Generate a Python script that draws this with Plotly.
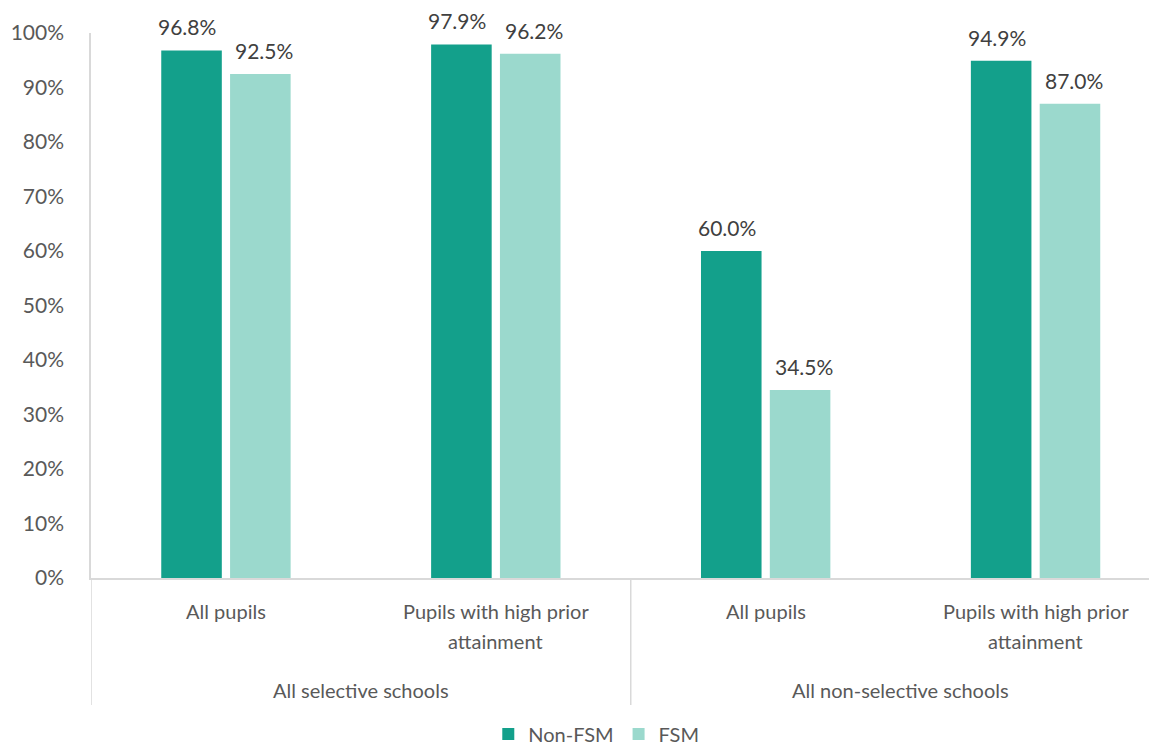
import plotly.graph_objects as go

school_types = ["All selective schools", "All selective schools",
                "All non-selective schools", "All non-selective schools"]
pupil_groups = ["All pupils", "Pupils with high prior<br>attainment",
                "All pupils", "Pupils with high prior<br>attainment"]
non_fsm = [96.8, 97.9, 60.0, 94.9]
fsm = [92.5, 96.2, 34.5, 87.0]
y_ticks = [0, 10, 20, 30, 40, 50, 60, 70, 80, 90, 100]
y_tick_labels = [f"{v}%" for v in y_ticks]

FONT = "Lato, Carlito, Calibri, sans-serif"
TXT = "#595959"
LBL = "#404040"
GRID = "#d9d9d9"
FS = 20
FS_NUM = 21

# unique category keys (school type + pupil group)
cats = [f"{s} | {p}" for s, p in zip(school_types, pupil_groups)]

# the page body has an 8px margin; figure is sized/offset to compensate
PAGE_OFF = 8
W, H = 1157 - PAGE_OFF, 746 - PAGE_OFF
TOP, BOTTOM = 33, 578          # plot area in page pixels
PH = BOTTOM - TOP


def py(pix):
    return (BOTTOM - pix) / PH


fig = go.Figure()
fig.add_trace(go.Bar(
    name="Non-FSM", x=cats, y=non_fsm,
    marker=dict(color="#13a08b", line=dict(width=0)),
    hoverinfo="y+name",
))
fig.add_trace(go.Bar(
    name="FSM", x=cats, y=fsm,
    marker=dict(color="#9bd9cd", line=dict(width=0)),
    hoverinfo="y+name",
))

annotations = []
# value labels above bars
for i, (a, b) in enumerate(zip(non_fsm, fsm)):
    for val, shift in ((a, -39), (b, 38)):
        annotations.append(dict(
            x=i, y=val, xref="x", yref="y", text=f"{val:.1f}%",
            showarrow=False, xshift=shift, yanchor="bottom", yshift=10,
            borderpad=0,
            font=dict(size=FS_NUM, color=LBL, family=FONT),
        ))
# first-level category labels (each line placed separately)
for i, p in enumerate(pupil_groups):
    for k, line in enumerate(p.split("<br>")):
        annotations.append(dict(
            x=i, y=py(611 + 30 * k), xref="x", yref="paper", text=line,
            showarrow=False, yanchor="middle",
            font=dict(size=FS, color=TXT, family=FONT),
        ))
# second-level (school type) labels
groups = []
for s in school_types:
    if s not in groups:
        groups.append(s)
for g in groups:
    idx = [i for i, s in enumerate(school_types) if s == g]
    annotations.append(dict(
        x=sum(idx) / len(idx), y=py(690), xref="x", yref="paper", text=g,
        showarrow=False, yanchor="middle",
        font=dict(size=FS, color=TXT, family=FONT),
    ))

shapes = []
for bx in [-0.5, 1.5, 3.5]:
    shapes.append(dict(type="line", xref="x", yref="paper",
                       x0=bx, x1=bx, y0=0, y1=py(705),
                       line=dict(color=GRID, width=1.5)))

fig.update_layout(
    width=W, height=H,
    margin=dict(l=91 - PAGE_OFF, r=0, t=TOP - PAGE_OFF,
                b=746 - BOTTOM, autoexpand=False),
    paper_bgcolor="white", plot_bgcolor="white",
    font=dict(family=FONT, size=FS, color=TXT),
    barmode="group", bargap=0.49, bargroupgap=0.12,
    showlegend=True,
    legend=dict(orientation="h", x=0.474, xanchor="center",
                y=py(734), yanchor="middle",
                font=dict(size=FS, color=TXT), itemwidth=30,
                traceorder="normal"),
    annotations=annotations,
    shapes=shapes,
)
fig.update_xaxes(
    type="category", range=[-0.5, 3.45], automargin=False,
    showline=True, linecolor=GRID, linewidth=1.5,
    showgrid=False, ticks="", showticklabels=False,
)
fig.update_yaxes(
    range=[0, 100], tickvals=y_ticks, ticktext=y_tick_labels,
    automargin=False,
    showline=True, linecolor=GRID, linewidth=1.5,
    showgrid=False, zeroline=False, ticks="", ticklabelstandoff=21,
    tickfont=dict(size=FS_NUM, color=TXT, family=FONT),
)

fig.write_html("out.html")
